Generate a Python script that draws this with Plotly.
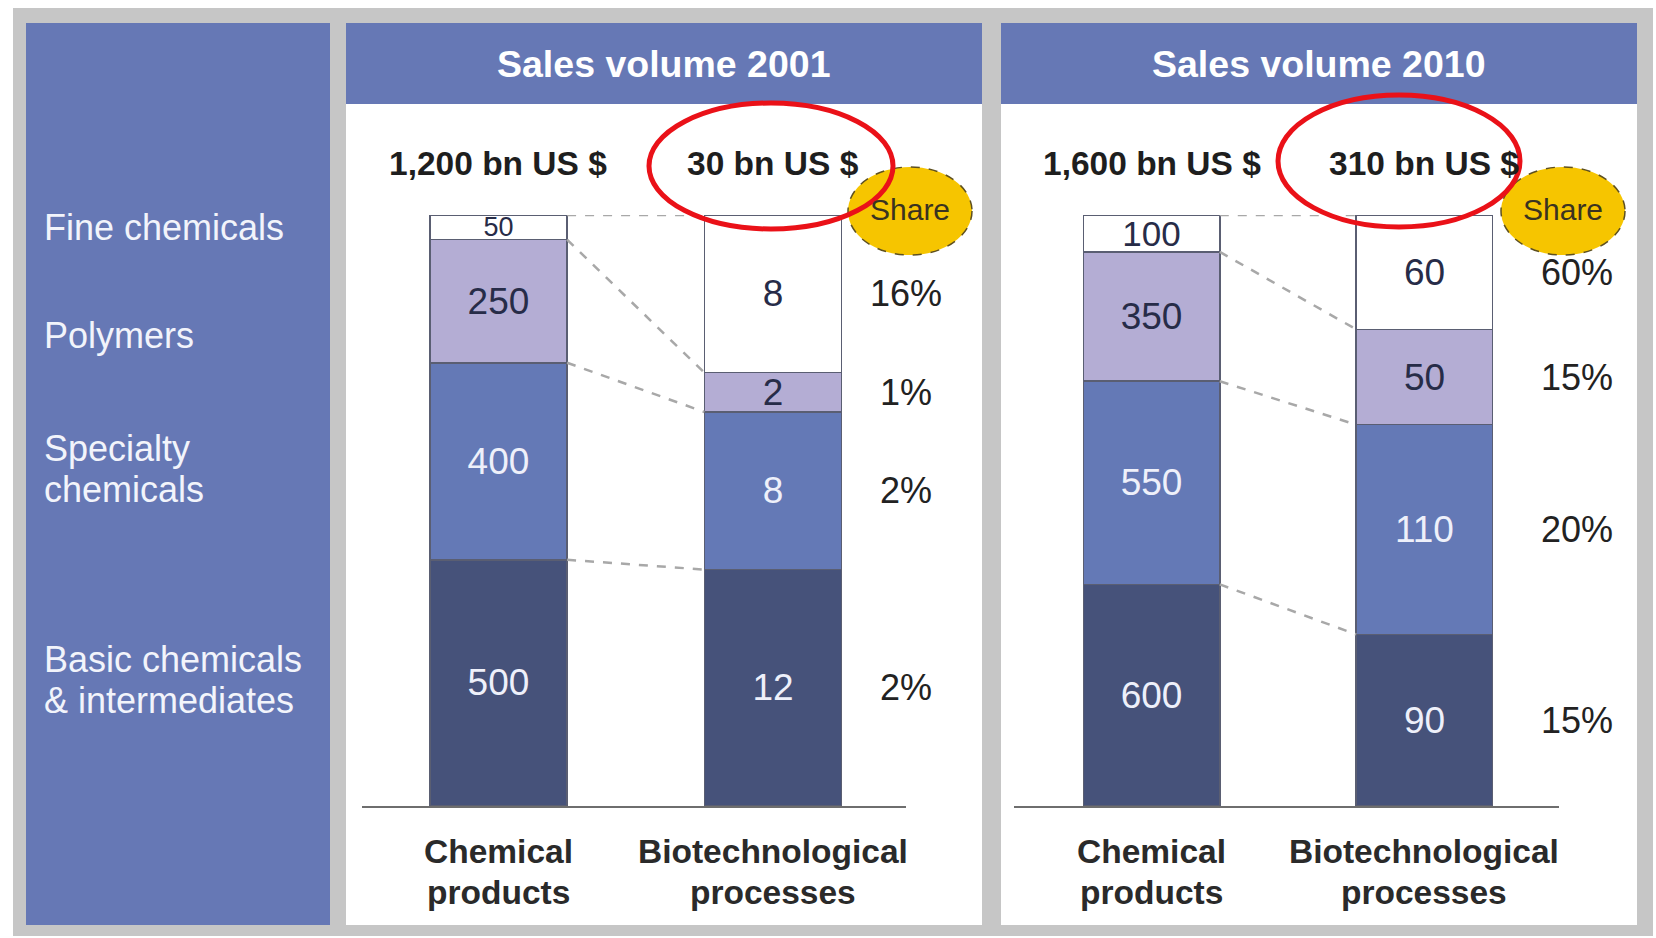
import plotly.graph_objects as go
import numpy as np

# ---------------- data ----------------
years = ["2001", "2010"]
product_types = ["Chemical<br>products", "Biotechnological<br>processes"]
segments = ["Basic chemicals<br>& intermediates", "Specialty<br>chemicals", "Polymers", "Fine chemicals"]

chemical_2001 = [500, 400, 250, 50]
biotech_2001 = [12, 8, 2, 8]
chemical_2010 = [600, 550, 350, 100]
biotech_2010 = [90, 110, 50, 60]

share_2001 = ["2%", "2%", "1%", "16%"]
share_2010 = ["15%", "20%", "15%", "60%"]

totals_2001 = ["1,200 bn US $", "30 bn US $"]
totals_2010 = ["1,600 bn US $", "310 bn US $"]

# ---------------- style ----------------
W, H = 1656, 938
FONT = "Liberation Sans, Arial, sans-serif"
BLUE_PANEL = "#6678b5"
GRAY_FRAME = "#c6c6c6"
seg_colors = ["#46527a", "#6479b6", "#b4add4", "#ffffff"]
seg_text_colors = ["#eef0fa", "#eef0fa", "#272c48", "#272c48"]
LINE_GAP = 41


def px(x):
    return x / W


def py(y):
    return 1 - y / H


fig = go.Figure()

panels = [
    dict(year=years[0], chem=chemical_2001, bio=biotech_2001, share=share_2001, totals=totals_2001,
         xa="x", ya="y", dom=(362, 906), hdr=(346, 982), share_c=(910, 211), red=(771, 166, 122, 63),
         pct_x=906),
    dict(year=years[1], chem=chemical_2010, bio=biotech_2010, share=share_2010, totals=totals_2010,
         xa="x2", ya="y2", dom=(1014, 1559), hdr=(1001, 1637), share_c=(1563, 211), red=(1399, 161, 121, 66),
         pct_x=1577),
]

shapes = []
annotations = []


def ann(**kw):
    kw.setdefault("showarrow", False)
    kw.setdefault("xanchor", "center")
    kw.setdefault("yanchor", "middle")
    annotations.append(kw)


def multiline(text, y_center, **kw):
    lines = text.split("<br>")
    n = len(lines)
    for li, line in enumerate(lines):
        yy = y_center + (li - (n - 1) / 2) * LINE_GAP
        ann(text=line, y=py(yy), **kw)


# frame / backgrounds
shapes.append(dict(type="rect", xref="paper", yref="paper", x0=px(13), x1=px(1653), y0=py(936), y1=py(8),
                   fillcolor=GRAY_FRAME, line=dict(width=0), layer="below"))
shapes.append(dict(type="rect", xref="paper", yref="paper", x0=px(26), x1=px(330), y0=py(925), y1=py(23),
                   fillcolor=BLUE_PANEL, line=dict(width=0), layer="below"))

# left labels
left_label_y = [680, 469, 336, 227]
for lab, yy in zip(segments, left_label_y):
    multiline(lab, yy, xref="paper", yref="paper", x=px(42), xanchor="left", align="left",
              font=dict(family=FONT, size=36, color="#f2f4fb"))

for p in panels:
    # panel backgrounds
    shapes.append(dict(type="rect", xref="paper", yref="paper", x0=px(p["hdr"][0]), x1=px(p["hdr"][1]),
                       y0=py(925), y1=py(23), fillcolor="white", line=dict(width=0), layer="below"))
    shapes.append(dict(type="rect", xref="paper", yref="paper", x0=px(p["hdr"][0]), x1=px(p["hdr"][1]),
                       y0=py(104), y1=py(23), fillcolor=BLUE_PANEL, line=dict(width=0), layer="below"))
    ann(xref="paper", yref="paper", x=px((p["hdr"][0] + p["hdr"][1]) / 2), y=py(64),
        text="<b>Sales volume " + p["year"] + "</b>", font=dict(family=FONT, size=37.5, color="white"))

    chem = np.array(p["chem"], dtype=float)
    bio = np.array(p["bio"], dtype=float)
    chem_cum = np.cumsum(chem) / chem.sum() * 100
    bio_cum = np.cumsum(bio) / bio.sum() * 100
    bio_mid = bio_cum - (bio / bio.sum() * 100) / 2

    # dashed connectors
    for k in range(len(segments)):
        fig.add_trace(go.Scatter(x=[0.25, 0.75], y=[chem_cum[k], bio_cum[k]], mode="lines",
                                 line=dict(color="#a8a8a8", width=2.5, dash="dash"),
                                 xaxis=p["xa"], yaxis=p["ya"], showlegend=False, hoverinfo="skip"))

    # stacked bars
    for i, seg in enumerate(segments):
        vals = [p["chem"][i], p["bio"][i]]
        if i == 3:
            sizes = [27, 37] if p["year"] == "2001" else [35, 37]
        else:
            sizes = [37, 37]
        fig.add_trace(go.Bar(
            x=[0, 1], y=vals, width=0.5, name=seg.replace("<br>", " "),
            marker=dict(color=seg_colors[i], line=dict(color="#5a5e72", width=1.5)),
            text=[str(v) for v in vals], textposition="inside", insidetextanchor="middle",
            constraintext="none", textangle=0,
            textfont=dict(family=FONT, size=sizes, color=seg_text_colors[i]),
            xaxis=p["xa"], yaxis=p["ya"], showlegend=False))

    # totals above bars
    for j, t in enumerate(p["totals"]):
        ann(xref=p["xa"], yref="paper", x=j, y=py(164), text="<b>" + t + "</b>",
            font=dict(family=FONT, size=33.5, color="#1e1e1e"))

    # category labels below
    for j, c in enumerate(product_types):
        multiline("<br>".join("<b>" + s + "</b>" for s in c.split("<br>")), 872,
                  xref=p["xa"], yref="paper", x=j, font=dict(family=FONT, size=33.5, color="#2a2a2a"))

    # share percentages
    for k, s in enumerate(p["share"]):
        ann(xref="paper", yref=p["ya"], x=px(p["pct_x"]), y=bio_mid[k], text=s,
            font=dict(family=FONT, size=36, color="#222222"))

    # share oval
    cx, cy = p["share_c"]
    shapes.append(dict(type="circle", xref="paper", yref="paper", x0=px(cx - 62), x1=px(cx + 62),
                       y0=py(cy + 44), y1=py(cy - 44), fillcolor="#f6c500",
                       line=dict(color="#5e5020", width=1.5, dash="dash"), layer="above"))
    ann(xref="paper", yref="paper", x=px(cx), y=py(cy - 2), text="Share",
        font=dict(family=FONT, size=30, color="#3a3320"))

    # red highlight ellipse
    rx0, ry0, rrx, rry = p["red"]
    shapes.append(dict(type="circle", xref="paper", yref="paper", x0=px(rx0 - rrx), x1=px(rx0 + rrx),
                       y0=py(ry0 + rry), y1=py(ry0 - rry), fillcolor="rgba(0,0,0,0)",
                       line=dict(color="#ea1118", width=5), layer="above"))

ydom = (py(806), py(215))
fig.update_layout(
    width=W, height=H, margin=dict(l=0, r=0, t=0, b=0),
    paper_bgcolor="white", plot_bgcolor="rgba(0,0,0,0)",
    barmode="stack", barnorm="percent", showlegend=False,
    font=dict(family=FONT),
    shapes=shapes, annotations=annotations,
    xaxis=dict(domain=[px(362), px(906)], range=[-0.497, 1.4845], showgrid=False, zeroline=False,
               showticklabels=False, ticks="", showline=True, linecolor="#6e6e6e", linewidth=2,
               fixedrange=True),
    yaxis=dict(domain=list(ydom), range=[0, 100], visible=False, fixedrange=True),
    xaxis2=dict(domain=[px(1014), px(1559)], range=[-0.504, 1.493], showgrid=False, zeroline=False,
                showticklabels=False, ticks="", showline=True, linecolor="#6e6e6e", linewidth=2,
                anchor="y2", fixedrange=True),
    yaxis2=dict(domain=list(ydom), range=[0, 100], visible=False, anchor="x2", fixedrange=True),
)

fig.write_html("out.html", config={"displayModeBar": False},
               post_script="document.body.style.margin='0';document.body.style.overflow='hidden';")
